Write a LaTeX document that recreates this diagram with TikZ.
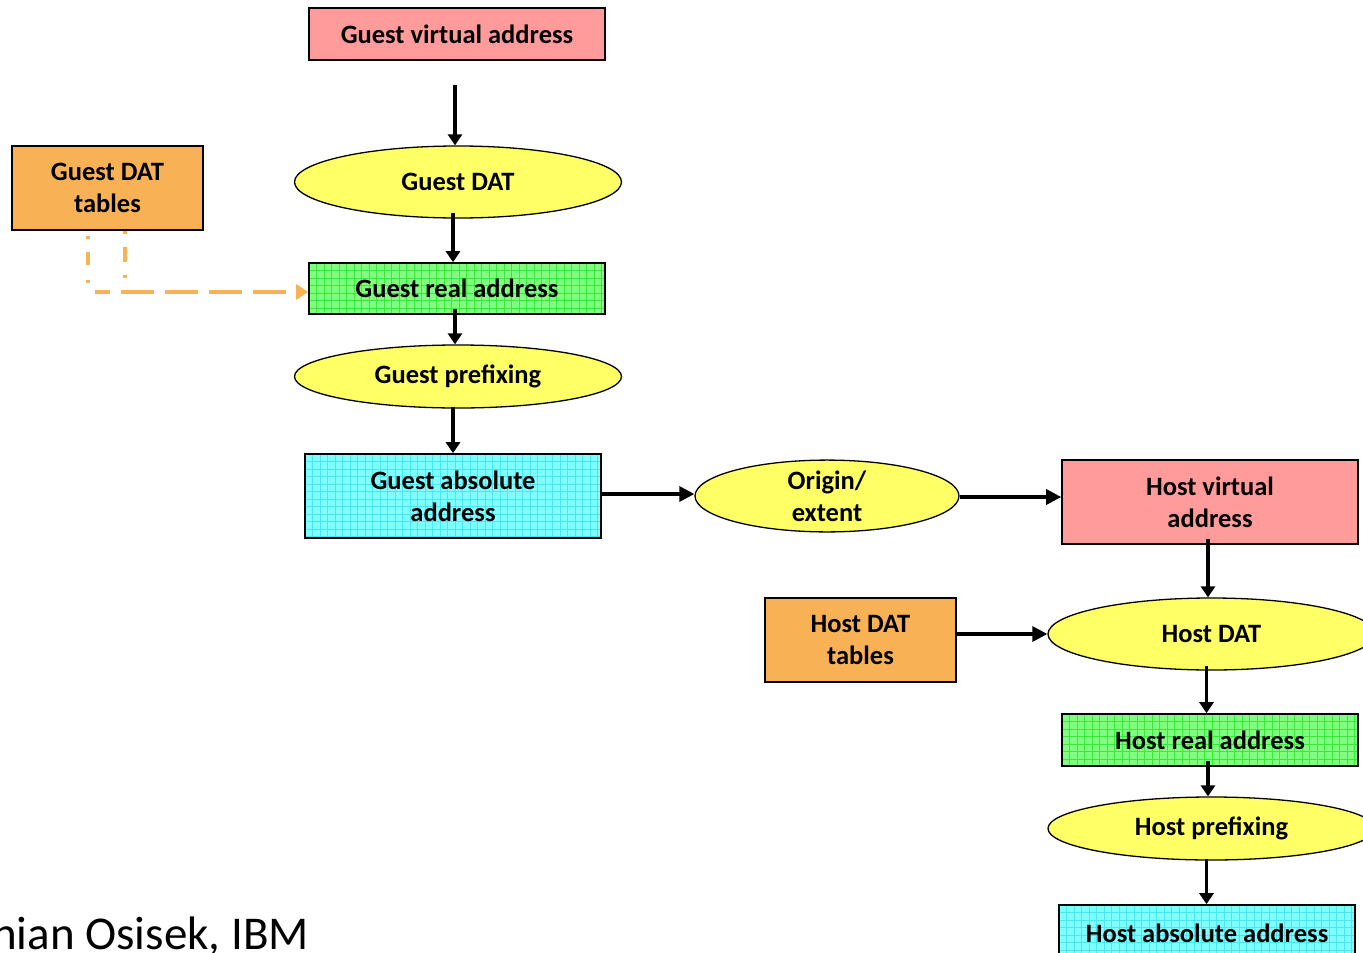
\documentclass[tikz,border=0pt]{standalone}
\usepackage{fontspec}
\setmainfont{Carlito}
\usetikzlibrary{arrows.meta,calc,shapes.geometric}

\definecolor{salmon}{HTML}{FF9B9B}
\definecolor{amber}{HTML}{F8B155}
\definecolor{lemon}{HTML}{FFFF66}
\definecolor{mint}{HTML}{80FF80}
\definecolor{mintgrid}{HTML}{3AEA3A}
\definecolor{aqua}{HTML}{80FFFF}
\definecolor{aquagrid}{HTML}{4AE6F2}
\definecolor{dashorange}{HTML}{F8B155}

\tikzset{
  lbl/.style={font=\fontsize{26.5}{32}\selectfont\bfseries, align=center, inner sep=0pt},
  addrbox/.style={draw=black, line width=1.6pt, rectangle, lbl},
  oval/.style={draw=black, line width=1.3pt, ellipse, fill=lemon, lbl},
  flow/.style={draw=black, line width=3.2pt, -{Triangle[length=11pt,width=14pt]}},
  sideflow/.style={flow, -{Triangle[length=15pt,width=15pt]}},
  tablink/.style={draw=dashorange, line width=4pt},
}

% filled rectangle x1,y1,x2,y2 with a fine square grid; #5 fill, #6 grid colour
\newcommand{\gridfill}[6]{%
  \begin{scope}
    \clip (#1,#2) rectangle (#3,#4);
    \fill[#5] (#1,#2) rectangle (#3,#4);
    \foreach \gx in {#1,...,#3} {
      \pgfmathsetmacro{\gxx}{#1+7.5*(\gx-#1)}
      \draw[#6, line width=0.6pt] (\gxx,#2) -- (\gxx,#4);
    }
    \foreach \gy in {#2,...,#4} {
      \pgfmathsetmacro{\gyy}{#2+7.5*(\gy-#2)}
      \draw[#6, line width=0.6pt] (#1,\gyy) -- (#3,\gyy);
    }
  \end{scope}
}

\begin{document}
\begin{tikzpicture}[x=1pt,y=-1pt]
\useasboundingbox (0,0) rectangle (1363,953);
\clip (0,0) rectangle (1363,953);

% ---- guest side ----
\node[addrbox, fill=salmon, minimum width=296pt, minimum height=52pt] (gva) at (457,34) {Guest virtual address};
\node[oval, minimum width=327pt, minimum height=72pt] (gdat) at (458,182) {Guest DAT};
\node[addrbox, fill=amber, minimum width=191pt, minimum height=84pt] (gtab) at (107.5,188) {Guest DAT\\tables};

% guest real address (green grid)
\gridfill{309}{263}{605}{314}{mint}{mintgrid}
\node[addrbox, minimum width=296pt, minimum height=51pt] (gra) at (457,288.5) {Guest real address};

\node[oval, minimum width=327pt, minimum height=63pt] (gpre) at (458,376.5) {Guest prefixing};

% guest absolute address (cyan grid)
\gridfill{305}{454}{601}{538}{aqua}{aquagrid}
\node[addrbox, minimum width=296pt, minimum height=84pt] (gabs) at (453,496) {Guest absolute\\address};

\node[oval, minimum width=264pt, minimum height=62pt] (orig) at (827,496) {Origin/\\extent};

% ---- host side ----
\node[addrbox, fill=salmon, minimum width=296pt, minimum height=84pt] (hva) at (1210,502) {Host virtual\\address};
\node[addrbox, fill=amber, minimum width=191pt, minimum height=84pt] (htab) at (860.5,640) {Host DAT\\tables};
\node[oval, minimum width=327pt, minimum height=72pt] (hdat) at (1211.5,634) {Host DAT};

\gridfill{1062}{714}{1358}{766}{mint}{mintgrid}
\node[addrbox, minimum width=296pt, minimum height=52pt] (hra) at (1210,740) {Host real address};

\node[oval, minimum width=327pt, minimum height=63pt] (hpre) at (1211.5,828.5) {Host prefixing};

\gridfill{1059}{905}{1355}{965}{aqua}{aquagrid}
\node[addrbox, minimum width=296pt, minimum height=56pt] (habs) at (1207,933) {Host absolute address};

% ---- connectors ----
\coordinate (gvaout) at (455,85);
\draw[flow] (gvaout) -- (gvaout |- gdat.north);

\path ($(gdat.south)+(-5,-6)$) coordinate (c1)
      ($(gra.south)+(-2,-6)$)  coordinate (c2)
      ($(gpre.south)+(-5,-2)$) coordinate (c3)
      ($(hva.south)+(-2,-6)$)  coordinate (c4)
      ($(hdat.south)+(-5,-5)$) coordinate (c5)
      ($(hra.south)+(-2,-6)$)  coordinate (c6)
      ($(hpre.south)+(-5,-2)$) coordinate (c7);

\draw[flow] (c1) -- (c1 |- gra.north);
\draw[flow] (c2) -- (c2 |- gpre.north);
\draw[flow] (c3) -- (c3 |- gabs.north);
\draw[sideflow] (gabs.east |- 0,494) -- (orig.west |- 0,494);
\draw[sideflow] (orig.east |- 0,497) -- (hva.west |- 0,497);
\draw[flow] (c4) -- (c4 |- hdat.north);
\draw[sideflow] (htab.east |- hdat.west) -- (hdat.west);
\draw[flow] (c5) -- (c5 |- hra.north);
\draw[flow] (c6) -- (c6 |- hpre.north);
\draw[flow] (c7) -- (c7 |- habs.north);

% dashed link from guest DAT tables to guest real address
\coordinate (tabdrop) at (88,236);
\coordinate (tabtick) at (125,231);
\draw[tablink, dash pattern=on 3pt off 13pt on 13pt off 15pt on 3pt off 9pt] (tabdrop) -- (88,292);
\draw[tablink, dash pattern=on 3pt off 13pt on 15pt off 13pt on 3pt off 30pt] (tabtick) -- (125,279);
\draw[tablink, dash pattern=on 33pt off 11pt, dash phase=18pt, -{Triangle[length=12pt,width=15pt]}]
  (95,292) -- (gra.west |- 0,292);

% author line
\node[anchor=base west, inner sep=0pt, font=\fontsize{47}{52}\selectfont] (auth) at (-8,949) {nian Osisek, IBM};
\end{tikzpicture}
\end{document}
